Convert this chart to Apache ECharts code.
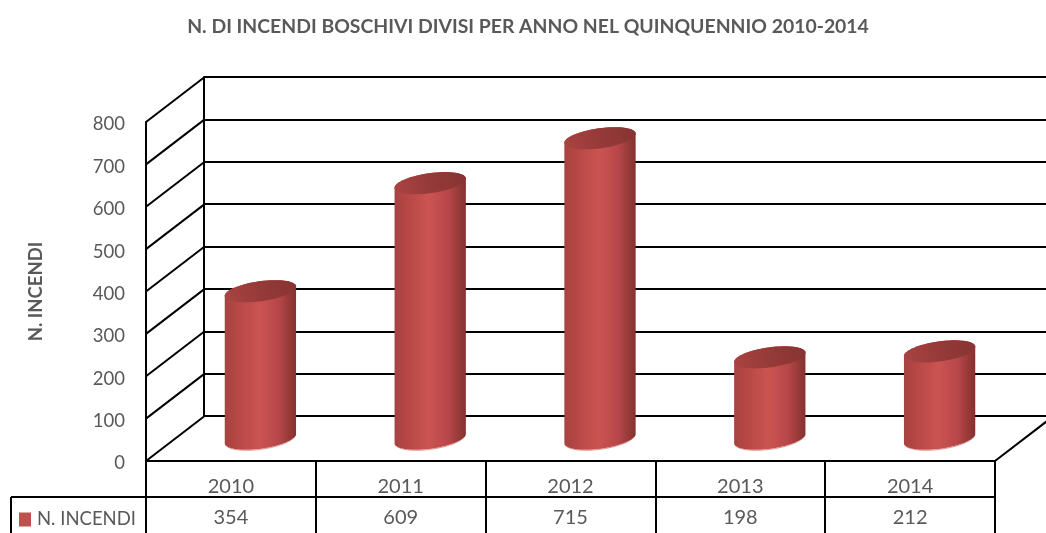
<!DOCTYPE html>
<html><head><meta charset="utf-8">
<style>html,body{margin:0;padding:0;background:#fff}#c{width:1046px;height:533px}</style>
<script src="https://cdn.jsdelivr.net/npm/echarts@6/dist/echarts.min.js"></script>
</head><body><div id="c"></div>
<script>
const titleText = 'N. DI INCENDI BOSCHIVI DIVISI PER ANNO NEL QUINQUENNIO 2010-2014';
const yAxisName = 'N. INCENDI';
const seriesName = 'N. INCENDI';
const categories = ['2010','2011','2012','2013','2014'];
const values = [354,609,715,198,212];
const yTicks = [0,100,200,300,400,500,600,700,800];

const FONT = 'Lato, "Open Sans", sans-serif';
const GREY = '#595959';
const DEPTH_X = 58, DEPTH_Y = -44.5;

function ellipsePts(cx, cy, a, b, phi, t0, t1, n) {
  const pts = [];
  for (let i = 0; i <= n; i++) {
    const t = t0 + (t1 - t0) * i / n;
    pts.push([
      cx + a*Math.cos(t)*Math.cos(phi) - b*Math.sin(t)*Math.sin(phi),
      cy + a*Math.cos(t)*Math.sin(phi) + b*Math.sin(t)*Math.cos(phi)
    ]);
  }
  return pts;
}
function renderCylinder(params, api) {
  const top = api.coord([api.value(0), api.value(1)]);
  const base = api.coord([api.value(0), 0]);
  const dx = DEPTH_X/2, dy = DEPTH_Y/2;
  const cx = top[0]+dx+0.5, ty = top[1]+dy+2.5, by = base[1]+dy;
  const a = 36, b = 10, phi = -8*Math.PI/180;
  const lowerBottom = ellipsePts(cx, by, a, b, phi, 0, Math.PI, 40);
  const upperTop = ellipsePts(cx, ty, a, b, phi, Math.PI, 2*Math.PI, 40);
  const body = lowerBottom.concat(upperTop);
  const cap = ellipsePts(cx, ty, a, b, phi, 0, 2*Math.PI, 60);
  const rim = ellipsePts(cx, by+0.5, a-1, b, phi, 0.3, Math.PI-0.3, 30);
  const bodyFill = new echarts.graphic.LinearGradient(0,0,1,0,[
    {offset:0,color:'#a64341'},{offset:0.12,color:'#b24543'},{offset:0.48,color:'#cb5451'},
    {offset:0.75,color:'#b8474a'},{offset:0.92,color:'#933836'},{offset:1,color:'#843231'}]);
  const capFill = new echarts.graphic.LinearGradient(0,1,1,0,[
    {offset:0,color:'#aa4442'},{offset:0.5,color:'#953a38'},{offset:1,color:'#873432'}]);
  return {type:'group', children:[
    {type:'polygon', shape:{points:body}, style:{fill:bodyFill}},
    {type:'polyline', shape:{points:rim}, style:{fill:'none',stroke:'#d87a77',lineWidth:1,opacity:0.8}},
    {type:'polygon', shape:{points:cap}, style:{fill:capFill}}
  ]};
}
function renderWall(params, api) {
  const p = api.coord([0, api.value(0)]);
  const bw = api.size([1,0])[0];
  const x = p[0]-bw/2;
  return {type:'line', shape:{x1:x,y1:p[1],x2:x+DEPTH_X,y2:p[1]+DEPTH_Y},
    style:{stroke:'#000',lineWidth:2}};
}
function renderFloorEdge(params, api) {
  const p = api.coord([categories.length-1, 0]);
  const bw = api.size([1,0])[0];
  const x = p[0]+bw/2;
  return {type:'line', shape:{x1:x,y1:p[1],x2:x+DEPTH_X,y2:p[1]+DEPTH_Y},
    style:{stroke:'#000',lineWidth:2}};
}
function renderValue(params, api) {
  const p = api.coord([api.value(0), 0]);
  return {type:'text', x:p[0], y:p[1]+57, silent:true, style:{
    text:String(api.value(1)), fill:GREY, font:'20px '+FONT, align:'center', verticalAlign:'middle'}};
}
const chart = echarts.init(document.getElementById('c'), null, {renderer:'canvas'});
chart.setOption({
  animation:false,
  backgroundColor:'#fff',
  color:['#c0504d'],
  title:{text:titleText,left:523,top:12,textAlign:'center',
    textStyle:{color:GREY,fontFamily:FONT,fontWeight:'bold',fontSize:19.4}},
  legend:{data:[{name:seriesName,icon:'rect'}],left:14,top:505,itemWidth:12,itemHeight:14,itemGap:4,
    textStyle:{color:GREY,fontFamily:FONT,fontSize:18.5,padding:[0,0,0,1]},selectedMode:false},
  grid:[
    {left:146,right:51,top:122,height:339},
    {left:204,right:-7,top:77,height:339}
  ],
  xAxis:[
    {type:'category',gridIndex:0,data:categories,
      axisLine:{lineStyle:{color:'#000',width:2}},
      axisTick:{show:true,length:72,lineStyle:{color:'#000',width:2}},
      axisLabel:{color:GREY,fontFamily:FONT,fontSize:20,margin:16},splitLine:{show:false},z:3},
    {type:'category',gridIndex:1,data:categories,axisLine:{show:false},axisTick:{show:false},
      axisLabel:{show:false},splitLine:{show:false}}
  ],
  yAxis:[
    {type:'value',gridIndex:0,min:0,max:800,interval:100,name:yAxisName,nameLocation:'middle',nameGap:100,
      nameRotate:90,nameTextStyle:{color:GREY,fontFamily:FONT,fontWeight:'bold',fontSize:18.5},
      axisLine:{show:true,lineStyle:{color:'#000',width:2}},axisTick:{show:false},
      axisLabel:{color:GREY,fontFamily:FONT,fontSize:18.5,margin:21,verticalAlign:'top',padding:[-7,0,0,0]},splitLine:{show:false},z:3},
    {type:'value',gridIndex:1,min:0,max:800,interval:100,
      axisLine:{show:true,lineStyle:{color:'#000',width:2}},axisTick:{show:false},axisLabel:{show:false},
      splitLine:{show:true,lineStyle:{color:'#000',width:2}}}
  ],
  series:[
    {type:'custom',name:'wall',xAxisIndex:0,yAxisIndex:0,z:1,silent:true,renderItem:renderWall,
      data:yTicks.map(v=>[v]),encode:{y:0}},
    {type:'custom',name:'floor',xAxisIndex:0,yAxisIndex:0,z:1,silent:true,renderItem:renderFloorEdge,
      data:[[0]],encode:{y:0}},
    {type:'custom',name:seriesName,xAxisIndex:0,yAxisIndex:0,z:5,renderItem:renderCylinder,
      itemStyle:{color:'#c0504d'},
      data:categories.map((c,i)=>[c,values[i]]),encode:{x:0,y:1}},
    {type:'custom',name:'table',xAxisIndex:0,yAxisIndex:0,z:5,silent:true,renderItem:renderValue,
      data:categories.map((c,i)=>[c,values[i]]),encode:{x:0,y:1}}
  ],
  graphic:[
    {type:'line',shape:{x1:11,y1:497,x2:995,y2:497},style:{stroke:'#000',lineWidth:2},z:4},
    {type:'line',shape:{x1:11,y1:497,x2:11,y2:533},style:{stroke:'#000',lineWidth:2},z:4}
  ]
});
</script></body></html>
